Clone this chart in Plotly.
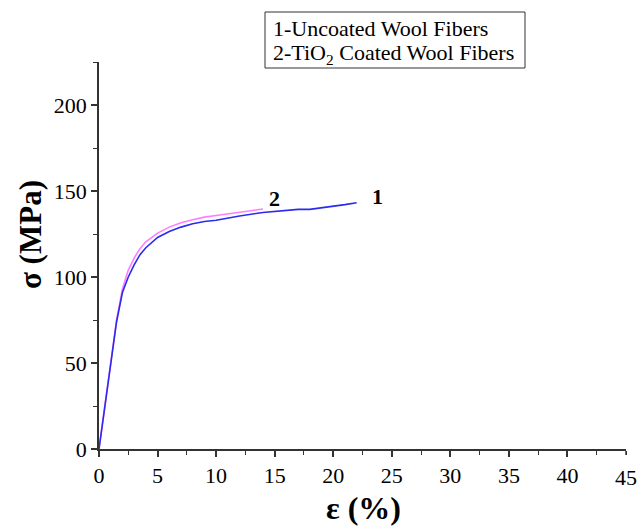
import plotly.graph_objects as go

# Curve 1: Uncoated wool fibers
strain_1 = [0, 0.5, 1.0, 1.5, 2.0, 2.5, 3.0, 3.5, 4.0, 5.0, 6.0, 7.0, 8.0, 9.0, 10.0,
            12.0, 14.0, 15.0, 16.0, 17.0, 18.0, 19.0, 20.0, 21.0, 22.0]
stress_1 = [0, 24, 50, 74, 91, 100, 107, 113, 117, 123, 126.5, 129, 131, 132.3, 133,
            135.5, 137.5, 138.2, 138.9, 139.3, 139.3, 140.1, 141, 142.1, 143.2]

# Curve 2: TiO2 coated wool fibers
strain_2 = [0, 0.5, 1.0, 1.5, 2.0, 2.5, 3.0, 3.5, 4.0, 5.0, 6.0, 7.0, 8.0, 9.0, 10.0,
            11.0, 12.0, 13.0, 14.0]
stress_2 = [0, 24, 50, 75, 93, 104, 111, 116.5, 120.5, 125.5, 129, 131.5, 133.3, 134.8,
            135.8, 136.8, 137.6, 138.6, 139.5]

x_ticks = [0, 5, 10, 15, 20, 25, 30, 35, 40, 45]
y_ticks = [0, 50, 100, 150, 200]
legend_lines = ["1-Uncoated Wool Fibers", "2-TiO<sub>2</sub> Coated Wool Fibers"]
x_title = "ε (%)"
y_title = "σ (MPa)"

serif = "Liberation Serif, Times New Roman, serif"
axis_col = "#333333"

L, R, T, B = 99, 13, 62, 81
W, H = 639, 530
pw, ph = W - L - R, H - T - B


def px(xp):
    return (xp - L) / pw


def py(yp):
    return (H - B - yp) / ph


fig = go.Figure()
fig.add_trace(go.Scatter(x=strain_2, y=stress_2, mode="lines",
                         line=dict(color="#ff7dff", width=1.6), showlegend=False))
fig.add_trace(go.Scatter(x=strain_1, y=stress_1, mode="lines",
                         line=dict(color="#2a2af0", width=1.6), showlegend=False))

fig.add_annotation(x=23.8, y=147, xref="x", yref="y", text="<b>1</b>", showarrow=False,
                   font=dict(family=serif, size=22, color="black"))
fig.add_annotation(x=15.0, y=145.5, xref="x", yref="y", text="<b>2</b>", showarrow=False,
                   font=dict(family=serif, size=22, color="black"))

# legend box
fig.add_shape(type="rect", xref="paper", yref="paper",
              x0=px(265), x1=px(525), y0=py(68), y1=py(12),
              line=dict(color=axis_col, width=1), fillcolor="white")
fig.add_annotation(x=px(271), y=py(28), xref="paper", yref="paper",
                   text=legend_lines[0], showarrow=False, xanchor="left", yanchor="middle",
                   font=dict(family=serif, size=22, color="black"))
fig.add_annotation(x=px(271), y=py(54), xref="paper", yref="paper",
                   text=legend_lines[1], showarrow=False, xanchor="left", yanchor="middle",
                   font=dict(family=serif, size=22, color="black"))

# axis titles
fig.add_annotation(x=px(363), y=py(508), xref="paper", yref="paper",
                   text="<b>" + x_title + "</b>", showarrow=False, xanchor="center", yanchor="middle",
                   font=dict(family=serif, size=32, color="black"))
fig.add_annotation(x=px(30), y=py(235), xref="paper", yref="paper",
                   text="<b>" + y_title + "</b>", showarrow=False, textangle=-90,
                   xanchor="center", yanchor="middle",
                   font=dict(family=serif, size=31, color="black"))

# last x tick label (at the right edge, as in the reference)
fig.add_annotation(x=x_ticks[-1], y=py(477), xref="x", yref="paper", text=str(x_ticks[-1]),
                   showarrow=False, xanchor="center", yanchor="middle",
                   font=dict(family=serif, size=22, color="black"))

fig.update_layout(
    width=W, height=H,
    margin=dict(l=L, r=R, t=T, b=B),
    paper_bgcolor="white", plot_bgcolor="white",
    xaxis=dict(range=[0, 45], tickvals=x_ticks[:-1], ticktext=[str(v) for v in x_ticks[:-1]],
               showgrid=False, zeroline=False, showline=True, linecolor=axis_col,
               linewidth=1.5, ticks="outside", ticklen=6, tickwidth=1.5, tickcolor=axis_col,
               minor=dict(dtick=2.5, ticks="outside", ticklen=4, tickwidth=1.2, tickcolor=axis_col),
               tickfont=dict(family=serif, size=22, color="black")),
    yaxis=dict(range=[0, 225], tickvals=y_ticks, ticktext=[str(v) for v in y_ticks],
               showgrid=False, zeroline=False, showline=True, linecolor=axis_col,
               linewidth=1.5, ticks="outside", ticklen=6, tickwidth=1.5, tickcolor=axis_col,
               minor=dict(dtick=25, ticks="outside", ticklen=4, tickwidth=1.2, tickcolor=axis_col),
               tickfont=dict(family=serif, size=22, color="black")),
)
fig.add_shape(type="line", xref="x", yref="paper", x0=x_ticks[-1], x1=x_ticks[-1], y0=0, y1=-6 / ph,
              line=dict(color=axis_col, width=1.5))

fig.write_html("out.html")
